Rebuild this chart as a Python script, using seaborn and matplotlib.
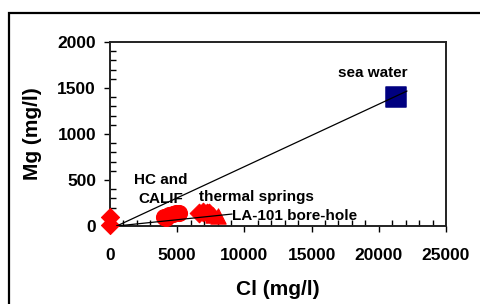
import matplotlib
matplotlib.use("Agg")
import matplotlib.pyplot as plt
from matplotlib.patches import Rectangle
from matplotlib.ticker import MultipleLocator
import seaborn as sns

# ── Données ─────────────────────────────────────────────────────────────────
cold_cl   = [0, 0]
cold_mg   = [100, 15]
hc_cl     = [4000, 4200, 4400, 4700, 4900, 5100]
hc_mg     = [100, 90, 115, 130, 145, 140]
thermal_cl = [6600, 6900, 7200, 7400]
thermal_mg = [140, 150, 145, 140]
tri_cl    = [7700, 8000]
tri_mg    = [120, 110]
sea_cl    = [21300]
sea_mg    = [1400]

# droites de mélange
mix_sea_cl = [500, 22100]
mix_sea_mg = [0, 1467]
mix_la_cl  = [500, 9080]
mix_la_mg  = [0, 130]

x_ticks = [0, 5000, 10000, 15000, 20000, 25000]
y_ticks = [0, 500, 1000, 1500, 2000]

sns.set_theme(style="white")
plt.rcParams["font.family"] = ["Liberation Sans", "DejaVu Sans"]
plt.rcParams["font.weight"] = "bold"
for key in ["text.color", "axes.labelcolor", "xtick.color", "ytick.color"]:
    plt.rcParams[key] = "black"

fig = plt.figure(figsize=(4.8, 3.04), dpi=100)
ax = fig.add_axes([110 / 480, 1 - 226 / 304, 336 / 480, 184 / 304])

red = "#ff0000"
sns.scatterplot(x=cold_cl, y=cold_mg, marker="D", s=85, color=red,
                edgecolor=red, ax=ax, clip_on=False, zorder=3)
sns.scatterplot(x=hc_cl, y=hc_mg, marker="o", s=130, color=red,
                edgecolor=red, ax=ax, zorder=3)
sns.scatterplot(x=thermal_cl, y=thermal_mg, marker="D", s=90, color=red,
                edgecolor=red, ax=ax, zorder=3)
sns.scatterplot(x=tri_cl, y=tri_mg, marker="^", s=120, color=red,
                edgecolor=red, ax=ax, zorder=3)
sns.scatterplot(x=sea_cl, y=sea_mg, marker="s", s=190, color="#000080",
                edgecolor="#000080", ax=ax, zorder=3)

ax.plot(mix_sea_cl, mix_sea_mg, color="black", lw=0.9, zorder=4)
ax.plot(mix_la_cl, mix_la_mg, color="black", lw=0.9, zorder=4)

ax.set_xlim(0, 25000)
ax.set_ylim(0, 2000)
ax.set_xticks(x_ticks)
ax.set_yticks(y_ticks)
ax.xaxis.set_minor_locator(MultipleLocator(1000))
ax.yaxis.set_minor_locator(MultipleLocator(100))
ax.tick_params(axis="both", which="major", direction="out", length=4,
               width=1, color="black", labelsize=12.5)
ax.tick_params(axis="x", which="major", pad=12)
ax.tick_params(axis="y", which="major", pad=6)
ax.tick_params(axis="both", which="minor", direction="in", length=4,
               width=1, color="black")
ax.tick_params(axis="x", which="both", bottom=True)
ax.tick_params(axis="y", which="both", left=True)
for lab in ax.get_xticklabels() + ax.get_yticklabels():
    lab.set_fontweight("bold")

for side in ["top", "right", "bottom", "left"]:
    ax.spines[side].set_color("#222222")
    ax.spines[side].set_linewidth(1.4)

ax.set_xlabel("Cl (mg/l)", fontsize=15, fontweight="bold", labelpad=12)
ax.set_ylabel("Mg (mg/l)", fontsize=15, fontweight="bold", labelpad=11)

ax.text(19570, 1663, "sea water", fontsize=11, fontweight="bold",
        ha="center", va="center")
ax.text(3800, 395, "HC and\nCALIF", fontsize=11, fontweight="bold",
        ha="center", va="center", linespacing=1.45)
ax.text(6650, 315, "thermal springs", fontsize=11, fontweight="bold",
        ha="left", va="center")
ax.text(9080, 109, "LA-101 bore-hole", fontsize=11, fontweight="bold",
        ha="left", va="center")

# cadre extérieur
fig.patches.append(Rectangle((8.5 / 480, -0.1), 1.2, (304 - 13) / 304 + 0.1,
                             transform=fig.transFigure, fill=False,
                             edgecolor="black", lw=1.6))

fig.savefig("out.png", dpi=100)
